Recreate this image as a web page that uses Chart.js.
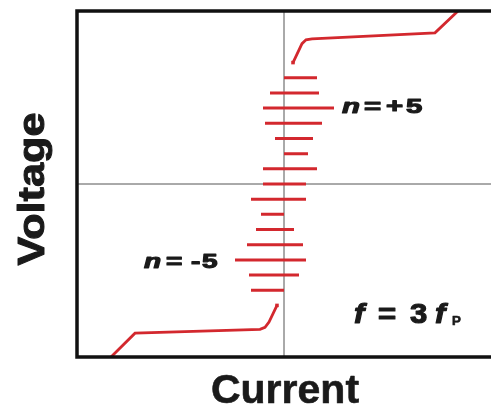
<!DOCTYPE html>
<html>
<head>
<meta charset="utf-8">
<script src="https://cdn.jsdelivr.net/npm/chart.js@4"></script>
<style>
  html,body{margin:0;padding:0;background:#fff;}
  canvas{display:block;}
</style>
</head>
<body>
<canvas id="chart" width="491" height="408"></canvas>
<script>
// Shapiro steps: voltage in units of step index n, current in arbitrary units
const stepN  = [7, 6, 5, 4, 3, 2, 1, 0, -1, -2, -3, -4, -5, -6, -7];
const stepLo = [0, -1.4, -2.1, -1.9, -0.9, 0, -2.1, -2.1, -3.3, -2.3, -2.8, -3.7, -4.9, -3.5, -3.3];
const stepHi = [3.3, 3.5, 5.0, 3.8, 2.9, 2.4, 3.3, 2.2, 2.2, 0, 1.0, 1.9, 2.2, 1.5, 0];

// resistive branches above / below the steps
const upperI = [0.9, 1.8, 2.2, 2.8, 15.1, 17.4];
const upperV = [8.0, 9.25, 9.5, 9.56, 9.96, 11.4];
const lowerI = [-0.7, -1.5, -1.9, -2.4, -14.9, -17.3];
const lowerV = [-8.0, -9.1, -9.45, -9.58, -9.83, -11.4];

const xRange = [-20.7, 20.7];
const yRange = [-11.4, 11.4];

const RED = '#d3282e';

// steps as one dataset, separated by gaps
const stepPts = [];
stepN.forEach((n,i)=>{
  stepPts.push({x:stepLo[i], y:n});
  stepPts.push({x:stepHi[i], y:n});
  stepPts.push({x:stepHi[i], y:null});
});
const upperPts = upperI.map((x,i)=>({x:x, y:upperV[i]}));
const lowerPts = lowerI.map((x,i)=>({x:x, y:lowerV[i]}));
const endMarker = arr => arr.map((_,i)=> i===0 ? 2.5 : 0);

function txt(ctx, s, x, y, size, o){
  o = o || {};
  ctx.save();
  ctx.translate(x, y);
  if(o.rot) ctx.rotate(-Math.PI/2);
  ctx.scale(o.sx || 1, 1);
  ctx.font = (o.italic ? 'italic ' : '') + 'bold ' + size + 'px "Liberation Sans", Arial, sans-serif';
  ctx.fillStyle = '#1a1a1a';
  ctx.strokeStyle = '#1a1a1a';
  ctx.textAlign = o.align || 'left';
  ctx.textBaseline = 'alphabetic';
  ctx.fillText(s, 0, 0);
  if(o.heavy){ ctx.lineWidth = o.heavy; ctx.lineJoin = 'round'; ctx.strokeText(s, 0, 0); }
  ctx.restore();
}

const framePlugin = {
  id: 'frame',
  afterDatasetsDraw(chart){
    const {ctx, chartArea:a} = chart;
    ctx.save();
    ctx.strokeStyle = '#111';
    ctx.lineWidth = 3.5;
    ctx.lineJoin = 'miter';
    ctx.beginPath();
    ctx.moveTo(a.right + 5, a.top);
    ctx.lineTo(a.left, a.top);
    ctx.lineTo(a.left, a.bottom);
    ctx.lineTo(a.right + 5, a.bottom);
    ctx.stroke();
    ctx.restore();
  }
};

const labelPlugin = {
  id: 'labels',
  afterDraw(chart){
    const ctx = chart.ctx;
    // axis titles
    txt(ctx, 'Voltage', 44, 189, 36, {rot:true, sx:1.2, align:'center', heavy:1});
    txt(ctx, 'Current', 285, 403, 41, {align:'center', heavy:0.6});
    // n = +5
    const h = 1.1;
    txt(ctx, 'n', 342, 113, 21, {italic:true, sx:1.4, heavy:h});
    txt(ctx, '=', 364, 113, 21, {sx:1.4, heavy:h});
    txt(ctx, '+', 386, 113, 21, {sx:1.4, heavy:h});
    txt(ctx, '5', 406, 113, 21, {sx:1.4, heavy:h});
    // n = -5
    txt(ctx, 'n', 144, 268, 20, {italic:true, sx:1.4, heavy:h});
    txt(ctx, '=', 166, 268, 20, {sx:1.4, heavy:h});
    txt(ctx, '-', 191, 268, 20, {sx:1.4, heavy:h});
    txt(ctx, '5', 202, 268, 20, {sx:1.4, heavy:h});
    // f = 3 fP
    txt(ctx, 'f', 354, 323, 27, {italic:true, sx:1.15, heavy:h});
    txt(ctx, '=', 378, 323, 27, {sx:1.15, heavy:h});
    txt(ctx, '3', 410, 323, 27, {sx:1.15, heavy:h});
    txt(ctx, 'f', 435, 323, 27, {italic:true, sx:1.15, heavy:h});
    txt(ctx, 'P', 452, 325, 12, {sx:1.1, heavy:0.6});
  }
};

new Chart(document.getElementById('chart').getContext('2d'), {
  type: 'scatter',
  data: {
    datasets: [
      { data:stepPts, showLine:true, spanGaps:false, borderColor:RED, borderWidth:3, borderCapStyle:'butt', pointRadius:0, order:1 },
      { data:upperPts, showLine:true, borderColor:RED, borderWidth:2.8, pointStyle:'rect',
        pointRadius:endMarker(upperPts), backgroundColor:RED, pointBorderWidth:0, order:1 },
      { data:lowerPts, showLine:true, borderColor:RED, borderWidth:2.8, pointStyle:'rect',
        pointRadius:endMarker(lowerPts), backgroundColor:RED, pointBorderWidth:0, order:1 },
      // crosshair through the origin, drawn underneath
      { data:[{x:xRange[0],y:0},{x:xRange[1],y:0}], showLine:true, borderColor:'#555', borderWidth:1, pointRadius:0, order:5 },
      { data:[{x:0,y:yRange[0]},{x:0,y:yRange[1]}], showLine:true, borderColor:'#555', borderWidth:1, pointRadius:0, order:5 }
    ]
  },
  options: {
    responsive: false,
    animation: false,
    devicePixelRatio: 1,
    layout: { autoPadding:false, padding: { left:77, top:11, right:0, bottom:51 } },
    plugins: { legend:{display:false}, tooltip:{enabled:false} },
    scales: {
      x: { type:'linear', min:xRange[0], max:xRange[1], display:false },
      y: { type:'linear', min:yRange[0], max:yRange[1], display:false }
    }
  },
  plugins: [framePlugin, labelPlugin]
});
</script>
</body>
</html>
